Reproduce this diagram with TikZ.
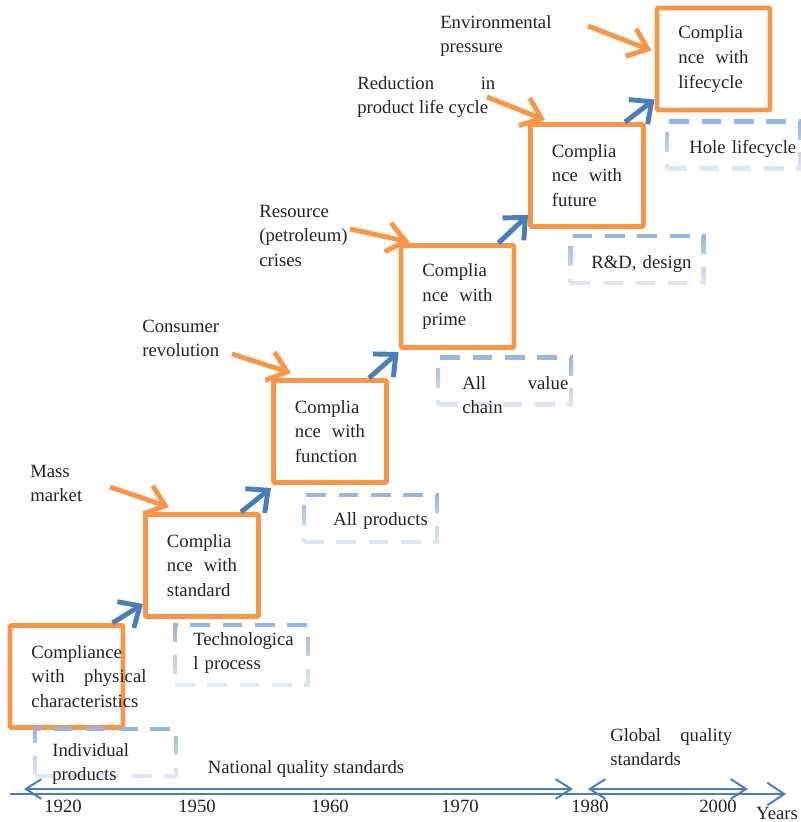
\documentclass[tikz,border=0pt]{standalone}
\usepackage{fontspec}
\setmainfont{Liberation Serif}
\usetikzlibrary{arrows.meta, calc, fadings}
\definecolor{stageorange}{RGB}{247,150,70}
\definecolor{stepblue}{RGB}{74,126,187}
\definecolor{scopeblue}{RGB}{150,180,225}
\definecolor{txtgray}{RGB}{35,35,35}
\tikzfading[name=fadedown, top color=transparent!0, bottom color=transparent!70]
\tikzstyle{stage} = [rectangle, rounded corners=1pt, draw=stageorange, line width=3.5pt,
    minimum width=2.825cm, minimum height=2.55cm, text width=1.75cm, align=justify, inner sep=0pt]
\tikzstyle{scopebox} = [rectangle, draw=scopeblue, line width=3pt, dash pattern=on 14pt off 9pt,
    minimum width=3.325cm, minimum height=1.175cm, path fading=fadedown]
\tikzstyle{txt} = [inner sep=0pt, anchor=base west, text width=4cm, align=left]
\tikzstyle{stepper} = [stepblue, line width=3.5pt, -{Straight Barb[length=12pt,width=22pt]}]
\tikzstyle{push} = [stageorange, line width=3.5pt, -{Straight Barb[length=13pt,width=21pt]}]
\tikzstyle{era} = [stepblue, line width=1.4pt, {Straight Barb[length=11pt,width=14pt]}-{Straight Barb[length=11pt,width=14pt]}]

\begin{document}
\begin{tikzpicture}[x=0.025cm, y=-0.025cm, font=\fontsize{13.3}{17.5}\selectfont, text=txtgray]
  \useasboundingbox (0,0) rectangle (801,822);

  % stages
  \node (b1) [stage] at (66.5,676.5) {\rlap{\parbox[c]{2.875cm}{Compliance\\with\hfill physical\\characteristics}}};
  \node (b2) [stage] at (202,565.5) {Complia\\nce\hfill with\\standard};
  \node (b3) [stage] at (330,431.5) {Complia\\nce\hfill with\\function};
  \node (b4) [stage] at (457.5,296.5) {Complia\\nce\hfill with\\prime};
  \node (b5) [stage] at (587,175.5) {Complia\\nce\hfill with\\future};
  \node (b6) [stage] at (713.5,59) {Complia\\nce\hfill with\\lifecycle};

  % scope of each stage
  \node (sc1) [scopebox, minimum width=3.525cm] at (105.5,752.5) {};
  \node (sc2) [scopebox, minimum height=1.5cm] at (241.5,655) {};
  \node (sc3) [scopebox] at (370.5,518.5) {};
  \node (sc4) [scopebox] at (504.5,381) {};
  \node (sc5) [scopebox] at (637,259.5) {};
  \node (sc6) [scopebox] at (733.5,145) {};
  \node (indiv)    [txt] at (52,756) {Individual\\products};
  \node (techproc) [txt] at (193,645) {Technologica\\l process};
  \node (allprod)  [txt] at (333,525) {All products};
  \node (valchain) [txt, text width=2.65cm, align=justify] at (462,389) {All\hfill value\\chain};
  \node (rnd)      [txt] at (591,268) {R\&D, design};
  \node (hole)     [txt] at (689,153) {Hole lifecycle};

  % driving forces
  \node (mass)     [txt] at (30,477) {Mass\\market};
  \node (consumer) [txt] at (142,332) {Consumer\\revolution};
  \node (resource) [txt] at (259,217) {Resource\\(petroleum)\\crises};
  \node (reduce)   [txt, text width=3.45cm, align=justify] at (357,89) {Reduction\hfill in\\product life cycle};
  \node (environ)  [txt] at (440,28) {Environmental\\pressure};
  \coordinate (massfrom)     at (110,487);
  \coordinate (consumerfrom) at (232,354);
  \coordinate (resourcefrom) at (350,229);
  \coordinate (reducefrom)   at (487,97);
  \coordinate (environfrom)  at (588,26);

  \draw[push] (massfrom)     -- ($(b2.north west)+(26,-5)$);
  \draw[push] (consumerfrom) -- ($(b3.north west)+(20,-5)$);
  \draw[push] (resourcefrom) -- ($(b4.north west)+(11,-1)$);
  \draw[push] (reducefrom)   -- ($(b5.north west)+(17,-2)$);
  \draw[push] (environfrom)  -- ($(b6.north west)+(-3,45)$);

  \draw[stepper] ($(b1.north east)+(-13,0)$) -- ($(b2.south west)+(0,-15)$);
  \draw[stepper] ($(b2.north east)+(-20,0)$) -- ($(b3.south west)+(0,3)$);
  \draw[stepper] ($(b3.north east)+(-20,0)$) -- ($(b4.south west)+(0,2)$);
  \draw[stepper] ($(b4.north east)+(-18,0)$) -- ($(b5.south west)+(0,-14)$);
  \draw[stepper] ($(b5.north east)+(-21,0)$) -- ($(b6.south west)+(0,-13)$);

  % time axis
  \coordinate (t0)   at (10,794);
  \coordinate (tend) at (786,794);
  \coordinate (n0)   at (24,789);
  \coordinate (n1)   at (573,789);
  \coordinate (g0)   at (588,789);
  \coordinate (g1)   at (748,789);
  \draw[stepblue, line width=1.4pt, -{Straight Barb[length=12pt,width=16pt]}] (t0) -- (tend);
  \draw[era] (n0) -- (n1);
  \draw[era] (g0) -- (g1);
  \node (national) [anchor=base, inner sep=0pt] at (306,773) {National quality standards};
  \node (global)   [txt, text width=3.05cm, align=justify] at (610,741) {Global\hfill quality\\standards};

  \node (y1920) [anchor=base, inner sep=0pt] at (63,812) {1920};
  \node (y1950) [anchor=base, inner sep=0pt] at (197,812) {1950};
  \node (y1960) [anchor=base, inner sep=0pt] at (330,812) {1960};
  \node (y1970) [anchor=base, inner sep=0pt] at (460,812) {1970};
  \node (y1980) [anchor=base, inner sep=0pt] at (590,812) {1980};
  \node (y2000) [anchor=base, inner sep=0pt] at (718,812) {2000};
  \node (years) [anchor=base, inner sep=0pt] at (777,819) {Years};
\end{tikzpicture}
\end{document}
